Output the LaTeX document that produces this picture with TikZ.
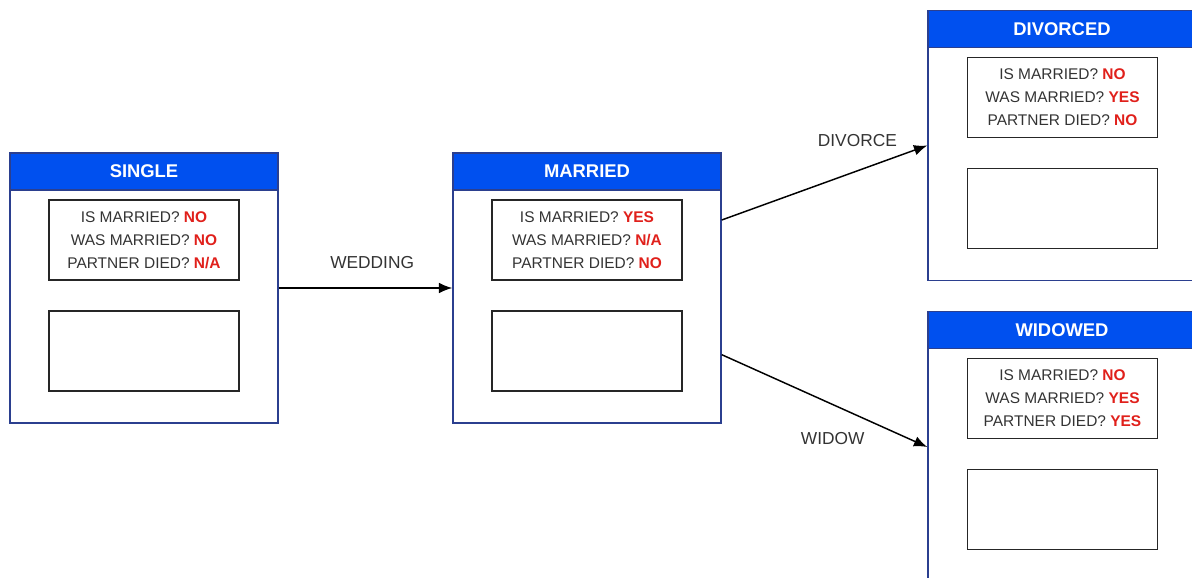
\documentclass[tikz,border=0pt]{standalone}
\usepackage{fontspec}
\setmainfont{Liberation Sans}
\usetikzlibrary{arrows.meta}

\definecolor{hdrblue}{HTML}{0050EF}
\definecolor{edgeblue}{HTML}{2B3F8F}
\definecolor{ansred}{HTML}{E0201B}
\definecolor{txtgray}{HTML}{333333}
\newcommand{\ans}[1]{\textcolor{ansred}{\textbf{#1}}}

\tikzset{
	state/.style={draw=edgeblue, line width=1.1pt, minimum width=201pt, minimum height=202.5pt, inner sep=0pt},
	header/.style={fill=hdrblue, draw=edgeblue, line width=1.1pt, minimum width=201pt, minimum height=27.75pt, inner sep=0pt, text=white, font=\bfseries\fontsize{13.8}{15}\selectfont},
	flags/.style={draw=black!85, line width=1.1pt, minimum width=142.5pt, minimum height=60pt, inner sep=0pt, align=center, text=txtgray, font=\fontsize{11.6}{17.25}\selectfont},
	notes/.style={draw=black!85, line width=1.1pt, minimum width=142.5pt, minimum height=60pt},
	trans/.style={-{Latex[length=10pt,width=8pt]}, line width=1.1pt},
	lbl/.style={text=txtgray, font=\fontsize{13}{15}\selectfont}
}

\begin{document}
\begin{tikzpicture}[x=0.75pt, y=-0.75pt]
		\useasboundingbox (0,0) rectangle (1192,578);

		\node (single)[state] at (144,288) {};
		\node (single-hdr)[header] at (144,171.5) {SINGLE};
		\node (single-flags)[flags] at (144,240) {IS MARRIED? \ans{NO}\\WAS MARRIED? \ans{NO}\\PARTNER DIED? \ans{N/A}};
		\node (single-notes)[notes] at (144,351) {};

		\node (married)[state] at (587,288) {};
		\node (married-hdr)[header] at (587,171.5) {MARRIED};
		\node (married-flags)[flags] at (587,240) {IS MARRIED? \ans{YES}\\WAS MARRIED? \ans{N/A}\\PARTNER DIED? \ans{NO}};
		\node (married-notes)[notes] at (587,351) {};

		\node (divorced)[state] at (1062,145.5) {};
		\node (divorced-hdr)[header] at (1062,29) {DIVORCED};
		\node (divorced-flags)[flags] at (1062.5,97.5) {IS MARRIED? \ans{NO}\\WAS MARRIED? \ans{YES}\\PARTNER DIED? \ans{NO}};
		\node (divorced-notes)[notes] at (1062.5,208.5) {};

		\node (widowed)[state] at (1062,447) {};
		\node (widowed-hdr)[header] at (1062,330) {WIDOWED};
		\node (widowed-flags)[flags] at (1062.5,398.5) {IS MARRIED? \ans{NO}\\WAS MARRIED? \ans{YES}\\PARTNER DIED? \ans{YES}};
		\node (widowed-notes)[notes] at (1062.5,509.5) {};

		\draw [trans](single.east) -- node [lbl, midway, xshift=5pt, yshift=18.75pt]{WEDDING} (married.west);
		\draw [trans]([yshift=51pt]married.east) -- node [lbl, pos=0.66, yshift=23pt]{DIVORCE} (divorced.west);
		\draw [trans]([yshift=-50pt]married.east) -- node [lbl, pos=0.54, yshift=-25.8pt]{WIDOW} (widowed.west);
	\end{tikzpicture}
\end{document}
